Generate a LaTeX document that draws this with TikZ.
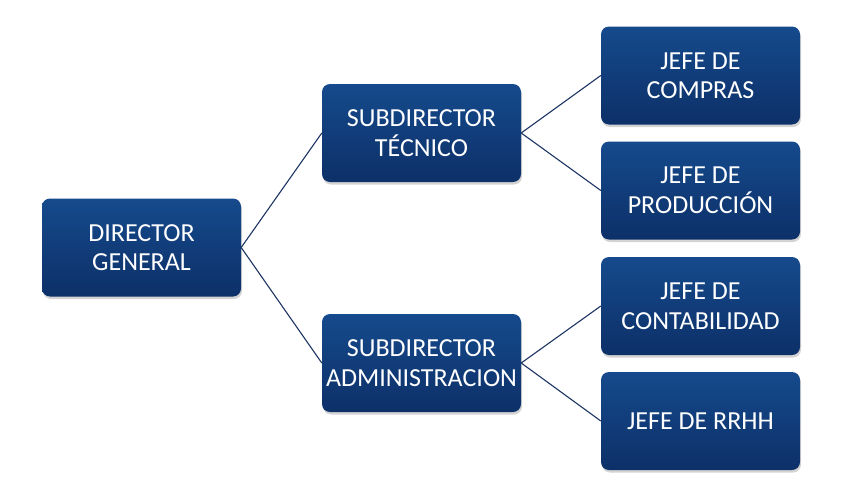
\documentclass[tikz,border=0pt]{standalone}
\usepackage{fontspec}
\setmainfont{Carlito}
\usetikzlibrary{shadows}
\definecolor{boxtop}{RGB}{21,74,140}
\definecolor{boxbot}{RGB}{13,48,104}
\definecolor{linkcol}{RGB}{28,52,98}
\tikzset{
  cargo/.style={rounded corners=8pt, minimum width=199pt, minimum height=98pt,
    top color=boxtop, bottom color=boxbot, draw=none, text=white,
    align=center, inner sep=1pt, font=\fontsize{26}{29.5}\selectfont,
    drop shadow={opacity=0.35, shadow xshift=1pt, shadow yshift=-2.5pt}},
  enlace/.style={draw=linkcol, line width=1.1pt}
}
\begin{document}
\begin{tikzpicture}[x=1pt, y=-1pt]
        \useasboundingbox (0,0) rectangle (844,501);
        \node[cargo] (dir) at (141.5,247.5) {DIRECTOR\\GENERAL};
        \node[cargo] (tec) at (421.5,133) {SUBDIRECTOR\\TÉCNICO};
        \node[cargo] (adm) at (421.5,363) {SUBDIRECTOR\\ADMINISTRACION};
        \node[cargo] (com) at (700.5,75.5) {JEFE DE\\COMPRAS};
        \node[cargo] (pro) at (700.5,190.5) {JEFE DE\\PRODUCCIÓN};
        \node[cargo] (con) at (700.5,306) {JEFE DE\\CONTABILIDAD};
        \node[cargo] (rrh) at (700.5,421) {JEFE DE RRHH};
        \draw[enlace] (dir.east) -- (tec.west);
        \draw[enlace] (dir.east) -- (adm.west);
        \draw[enlace] (tec.east) -- (com.west);
        \draw[enlace] (tec.east) -- (pro.west);
        \draw[enlace] (adm.east) -- (con.west);
        \draw[enlace] (adm.east) -- (rrh.west);
    \end{tikzpicture}
\end{document}
